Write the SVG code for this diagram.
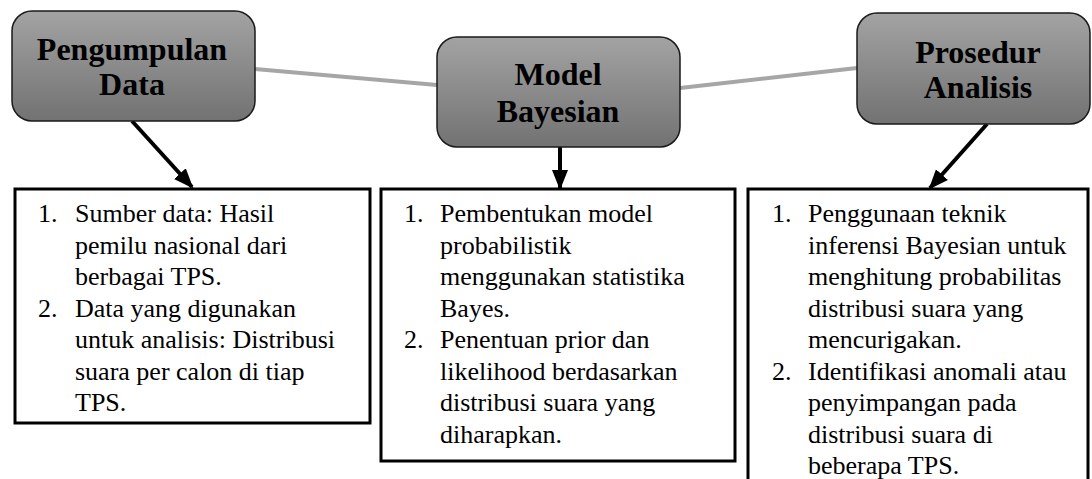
<svg xmlns="http://www.w3.org/2000/svg" width="1092" height="479" viewBox="0 0 1092 479">
<style>
.node{stroke:#1a1a1a;stroke-width:1.5;fill:url(#g)}
.title{font-family:"Liberation Serif",serif;font-weight:bold;font-size:32px;text-anchor:middle;fill:#000}
.box{fill:#fff;stroke:#000;stroke-width:3}
.body{font-family:"Liberation Serif",serif;font-size:26px;fill:#000}
.link{stroke:#a6a6a6;stroke-width:4;fill:none}
.arrow{stroke:#000;stroke-width:4;fill:none;marker-end:url(#ah)}
</style>
<defs>
<linearGradient id="g" x1="0" y1="0" x2="0" y2="1">
<stop offset="0" stop-color="#a3a3a3"/>
<stop offset="1" stop-color="#727272"/>
</linearGradient>
<marker id="ah" markerUnits="userSpaceOnUse" markerWidth="20" markerHeight="20" viewBox="0 0 20 20" refX="18" refY="10" orient="auto">
<path d="M0,2 L20,10 L0,18 Z" fill="#000"/>
</marker>
</defs>
<g id="connectors">
<line class="link" x1="255" y1="69" x2="437" y2="85"/>
<line class="link" x1="680" y1="88" x2="857" y2="68"/>
<line class="arrow" x1="132" y1="121" x2="192" y2="187"/>
<line class="arrow" x1="560" y1="147" x2="560" y2="188"/>
<line class="arrow" x1="987" y1="124" x2="930" y2="188"/>
</g>
<g id="pengumpulan">
<rect class="node" x="12" y="11" width="243" height="110" rx="20"/>
<text class="title" x="132" y="60">Pengumpulan</text>
<text class="title" x="132" y="95">Data</text>
</g>
<g id="model">
<rect class="node" x="437" y="37" width="243" height="110" rx="20"/>
<text class="title" x="558" y="85">Model</text>
<text class="title" x="558" y="122">Bayesian</text>
</g>
<g id="prosedur">
<rect class="node" x="857" y="13" width="233" height="111" rx="20"/>
<text class="title" x="978" y="63">Prosedur</text>
<text class="title" x="978" y="98">Analisis</text>
</g>
<g id="boxA">
<rect class="box" x="15" y="189" width="355" height="234"/>
<text class="body" x="38" y="222">1.</text>
<text class="body" x="75" y="222">Sumber data: Hasil</text>
<text class="body" x="75" y="253.5">pemilu nasional dari</text>
<text class="body" x="75" y="285">berbagai TPS.</text>
<text class="body" x="38" y="316.5">2.</text>
<text class="body" x="75" y="316.5">Data yang digunakan</text>
<text class="body" x="75" y="348">untuk analisis: Distribusi</text>
<text class="body" x="75" y="379.5">suara per calon di tiap</text>
<text class="body" x="75" y="411">TPS.</text>
</g>
<g id="boxB">
<rect class="box" x="381" y="189" width="354" height="272"/>
<text class="body" x="404" y="222">1.</text>
<text class="body" x="440" y="222">Pembentukan model</text>
<text class="body" x="440" y="253.5">probabilistik</text>
<text class="body" x="440" y="285">menggunakan statistika</text>
<text class="body" x="440" y="316.5">Bayes.</text>
<text class="body" x="404" y="348">2.</text>
<text class="body" x="440" y="348">Penentuan prior dan</text>
<text class="body" x="440" y="379.5">likelihood berdasarkan</text>
<text class="body" x="440" y="411">distribusi suara yang</text>
<text class="body" x="440" y="442.5">diharapkan.</text>
</g>
<g id="boxC">
<rect class="box" x="748" y="189" width="340" height="300"/>
<text class="body" x="772" y="222">1.</text>
<text class="body" x="808" y="222">Penggunaan teknik</text>
<text class="body" x="808" y="253.5">inferensi Bayesian untuk</text>
<text class="body" x="808" y="285">menghitung probabilitas</text>
<text class="body" x="808" y="316.5">distribusi suara yang</text>
<text class="body" x="808" y="348">mencurigakan.</text>
<text class="body" x="772" y="379.5">2.</text>
<text class="body" x="808" y="379.5">Identifikasi anomali atau</text>
<text class="body" x="808" y="411">penyimpangan pada</text>
<text class="body" x="808" y="442.5">distribusi suara di</text>
<text class="body" x="808" y="474">beberapa TPS.</text>
</g>
</svg>
